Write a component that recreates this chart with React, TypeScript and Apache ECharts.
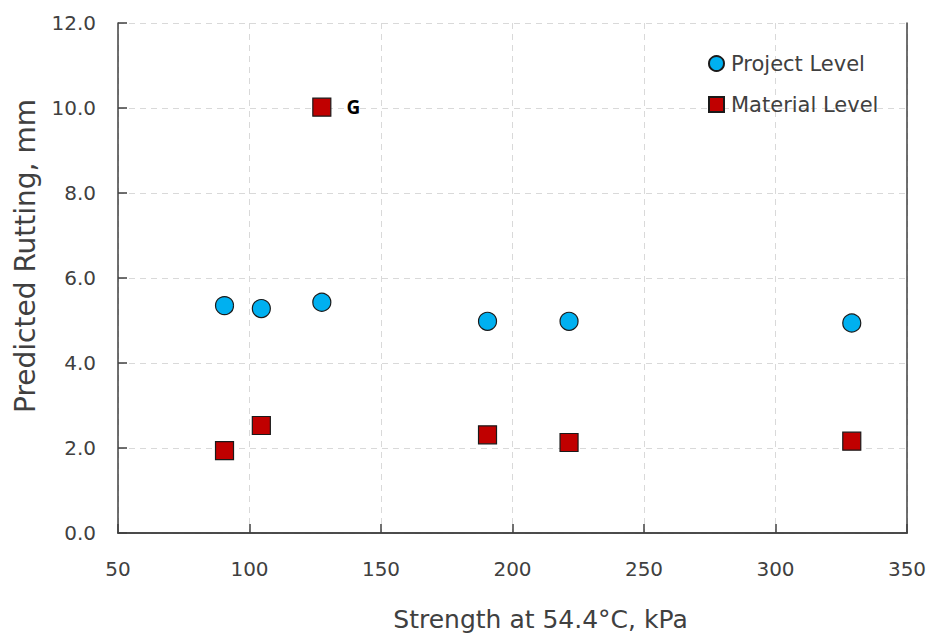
import React, { useEffect, useRef } from "react";
import * as echarts from "echarts";

const projectX = [90.5, 104.5, 127.5, 190.5, 221.5, 329];
const projectY = [5.35, 5.28, 5.43, 4.98, 4.98, 4.94];
const materialX = [90.5, 104.5, 127.5, 190.5, 221.5, 329];
const materialY = [1.94, 2.53, 10.02, 2.31, 2.13, 2.16];
const labelledPoint = "G";
const labelledIndex = 2;

const FONT = "DejaVu Sans";
const TXT = "#404040";
const AX = "#404040";

export default function App() {
  const ref = useRef<HTMLDivElement>(null);
  useEffect(() => {
    const chart = echarts.init(ref.current!, null, { renderer: "svg" });
    const materialData = materialX.map((x, i) => {
      const item: any = { value: [x, materialY[i]] };
      if (i === labelledIndex) {
        item.label = {
          show: true,
          position: "right",
          distance: 15,
          formatter: labelledPoint,
          fontFamily: "Open Sans",
          fontWeight: "bold",
          fontSize: 19,
          color: "#000",
        };
      }
      return item;
    });
    const frameAxis = {
      type: "value",
      axisLine: { show: true, lineStyle: { color: AX, width: 1.5 } },
      axisTick: { show: false },
      axisLabel: { show: false },
      splitLine: { show: false },
    };
    chart.setOption({
      animation: false,
      backgroundColor: "#fff",
      grid: {
        left: 118,
        right: 23,
        top: 23,
        bottom: 103,
      },
      legend: {
        orient: "vertical",
        left: 708,
        top: 53,
        padding: 0,
        itemWidth: 15,
        itemHeight: 15,
        itemGap: 20,
        textStyle: { fontFamily: FONT, fontSize: 21, color: TXT, padding: [0, 0, 0, 2] },
        data: [
          { name: "Project Level", icon: "circle" },
          { name: "Material Level", icon: "rect" },
        ],
      },
      xAxis: [
        {
          type: "value",
          min: 50,
          max: 350,
          interval: 50,
          name: "Strength at 54.4°C, kPa",
          nameLocation: "middle",
          nameGap: 74,
          nameTextStyle: { fontFamily: FONT, fontSize: 25, color: TXT, padding: [0, 0, 0, 56] },
          axisLine: { show: true, lineStyle: { color: AX, width: 1.5 } },
          axisTick: { show: true, inside: true, length: 9, lineStyle: { color: AX, width: 1.5 } },
          axisLabel: { fontFamily: FONT, fontSize: 20, color: TXT, margin: 26 },
          splitLine: { show: true, lineStyle: { color: "#d9d9d9", type: [6, 5], width: 1 } },
        },
        { ...frameAxis, position: "top", min: 50, max: 350 },
      ],
      yAxis: [
        {
          type: "value",
          min: 0,
          max: 12,
          interval: 2,
          name: "Predicted Rutting, mm",
          nameLocation: "middle",
          nameGap: 79,
          nameTextStyle: { fontFamily: FONT, fontSize: 28, color: TXT, padding: [0, 0, 0, 44] },
          axisLine: { show: true, lineStyle: { color: AX, width: 1.5 } },
          axisTick: { show: true, inside: true, length: 9, lineStyle: { color: AX, width: 1.5 } },
          axisLabel: {
            fontFamily: FONT,
            fontSize: 20,
            color: TXT,
            margin: 22,
            formatter: (v: number) => v.toFixed(1),
          },
          splitLine: { show: true, lineStyle: { color: "#d9d9d9", type: [6, 5], width: 1 } },
        },
        { ...frameAxis, position: "right", min: 0, max: 12 },
      ],
      series: [
        {
          name: "Project Level",
          type: "scatter",
          symbol: "circle",
          symbolSize: 18,
          itemStyle: { color: "#00B0F0", borderColor: "#1a1a1a", borderWidth: 1.2, opacity: 1 },
          data: projectX.map((x, i) => [x, projectY[i]]),
        },
        {
          name: "Material Level",
          type: "scatter",
          symbol: "rect",
          symbolSize: 18,
          itemStyle: { color: "#C00000", borderColor: "#1a1a1a", borderWidth: 1.2, opacity: 1 },
          data: materialData,
        },
      ],
    });
    return () => chart.dispose();
  }, []);
  return <div ref={ref} style={{ width: 930, height: 637, position: "absolute", left: 0, top: 0 }} />;
}
